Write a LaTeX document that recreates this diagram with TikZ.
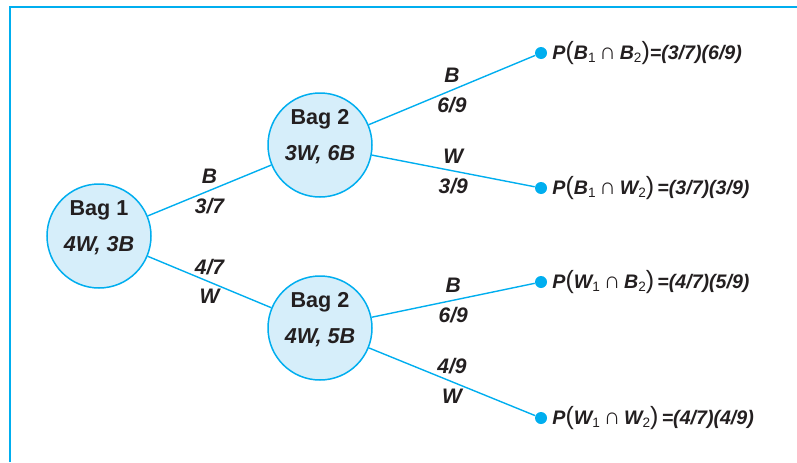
\documentclass[tikz,border=0pt]{standalone}
\usepackage{fontspec}
\setmainfont{Liberation Sans}
\usetikzlibrary{positioning}
\definecolor{linecyan}{RGB}{0,174,239}
\definecolor{bagfill}{RGB}{214,238,250}
\definecolor{inkgray}{RGB}{35,31,32}
% thin parentheses, events with subscripts, intersection sign
\newcommand{\pr}[1]{{\fontsize{12.5}{12.5}\selectfont\mdseries\upshape #1}}
\newcommand{\ev}[2]{\textit{#1}{\fontsize{6.8}{6.8}\selectfont\mdseries\upshape\raisebox{-0.45ex}{#2}}}
\newcommand{\capsym}{{\fontsize{11.5}{11.5}\selectfont\mdseries\upshape\,∩\,}}

\begin{document}
\begin{tikzpicture}[x=0.5pt,y=0.5pt,
    bag/.style={circle, draw=linecyan, fill=bagfill, line width=0.75pt, minimum size=52pt,
        inner sep=0pt, align=center, text depth=9.8pt, text=inkgray,
        font=\fontsize{10.8}{12.6}\selectfont\bfseries},
    leaf/.style={circle, fill=linecyan, minimum size=6pt, inner sep=0pt},
    branch/.style={draw=linecyan, line width=0.7pt},
    prob/.style={font=\fontsize{10.5}{12.6}\selectfont\bfseries\itshape, text=inkgray},
    result/.style={font=\fontsize{9.8}{11}\selectfont\bfseries\itshape, text=inkgray}]
    \useasboundingbox (0,0) rectangle (797,462);

    % frame
    \draw[linecyan, line width=1pt] (10,0) -- (10,455) -- (797,455);

    % bags
    \node[bag] (bagA) at (99,226) {Bag 1\\[5.4pt]\textit{4W, 3B}};
    \node[bag] (bagB) at (320,317) {Bag 2\\[5.4pt]\textit{3W, 6B}};
    \node[bag] (bagW) at (320,134) {Bag 2\\[5.4pt]\textit{4W, 5B}};

    % outcomes
    \node[leaf] (bb) at (541,409) {};
    \node[leaf] (bw) at (541,274) {};
    \node[leaf] (wb) at (541,180) {};
    \node[leaf] (ww) at (541,44) {};

    % branches
    \draw[branch] (bagA) -- (bagB) node[prob,midway,above] {B} node[prob,midway,below] {3/7};
    \draw[branch] (bagA) -- (bagW) node[prob,midway,above] {4/7} node[prob,midway,below] {W};
    \draw[branch] (bagB) -- (bb) node[prob,midway,above] {B} node[prob,midway,below] {6/9};
    \draw[branch] (bagB) -- (bw) node[prob,midway,above] {W} node[prob,midway,below] {3/9};
    \draw[branch] (bagW) -- (wb) node[prob,midway,above] {B} node[prob,midway,below] {6/9};
    \draw[branch] (bagW) -- (ww) node[prob,midway,above] {4/9} node[prob,midway,below] {W};

    % probabilities
    \node[result, right=-1pt of bb] (bbt) {P\pr(\ev{B}{1}\capsym\ev{B}{2}\pr)=(3/7)(6/9)};
    \node[result, right=-1pt of bw] (bwt) {P\pr(\ev{B}{1}\capsym\ev{W}{2}\pr)\,=(3/7)(3/9)};
    \node[result, right=-1pt of wb] (wbt) {P\pr(\ev{W}{1}\capsym\ev{B}{2}\pr)\,=(4/7)(5/9)};
    \node[result, right=-1pt of ww] (wwt) {P\pr(\ev{W}{1}\capsym\ev{W}{2}\pr)\,=(4/7)(4/9)};
\end{tikzpicture}
\end{document}
